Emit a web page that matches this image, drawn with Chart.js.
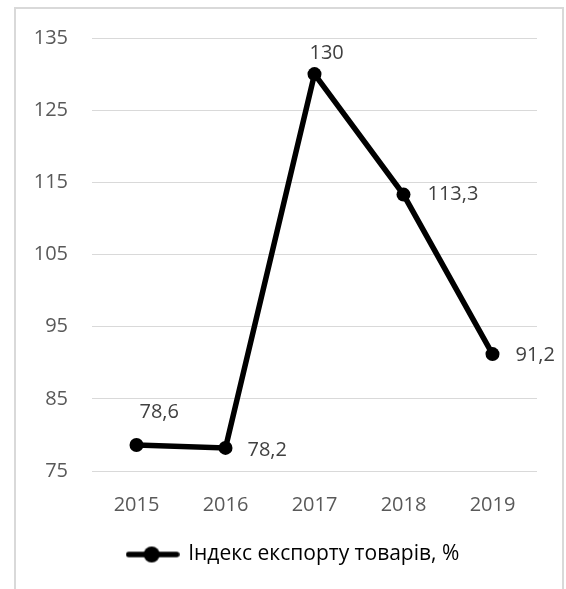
<!DOCTYPE html>
<html>
<head>
<meta charset="utf-8">
<script src="https://cdn.jsdelivr.net/npm/chart.js@4.4.1/dist/chart.umd.min.js"></script>
<style>
    body { margin: 0; background: #fff; }
    #frame { position: absolute; left: 14px; top: 7px; width: 550px; height: 600px; border: 2px solid #d9d9d9; box-sizing: border-box; }
    #wrap { position: absolute; left: 0; top: 0; width: 566px; height: 589px; }
</style>
</head>
<body>
<div id="frame"></div>
<div id="wrap"><canvas id="eksport"></canvas></div>
<script>
var roky = ["2015", "2016", "2017", "2018", "2019"];
var indeks = [78.6, 78.2, 130, 113.3, 91.2];
var yTicks = [75, 85, 95, 105, 115, 125, 135];
var nazva = "Індекс експорту товарів, %";
// where each value label sits relative to its point
var pidpysyDx = [3, 22, -5, 24, 23];
var pidpysyDy = [-33, 2, -21, 0, 1];

var shryft = "'Open Sans', 'Noto Sans', sans-serif";

// marker for the legend: line with a dot in the middle
function markerLegendy() {
    var c = document.createElement('canvas');
    c.width = 54;
    c.height = 18;
    var g = c.getContext('2d');
    g.strokeStyle = '#000';
    g.lineWidth = 5.5;
    g.lineCap = 'round';
    g.beginPath();
    g.moveTo(3, 9);
    g.lineTo(51, 9);
    g.stroke();
    g.fillStyle = '#000';
    g.beginPath();
    g.arc(26, 9, 8, 0, Math.PI * 2);
    g.fill();
    return c;
}

var pidpysyPlugin = {
    id: 'pidpysy',
    afterLayout(chart) {
        // legend sits a bit to the right of the plot centre
        chart.legend.left += 25;
        chart.legend.right += 25;
    },
    afterDatasetsDraw(chart) {
        var ctx = chart.ctx;
        var meta = chart.getDatasetMeta(0);
        ctx.save();
        ctx.font = '20px ' + shryft;
        ctx.fillStyle = '#404040';
        ctx.textBaseline = 'middle';
        ctx.textAlign = 'left';
        meta.data.forEach(function (p, i) {
            var t = String(indeks[i]).replace('.', ',');
            ctx.fillText(t, p.x + pidpysyDx[i], p.y + pidpysyDy[i]);
        });
        ctx.restore();
    }
};

var ctx = document.querySelector('#eksport').getContext('2d');
var myChart = new Chart(ctx, {
    type: 'line',
    data: {
        labels: roky,
        datasets: [{
            label: nazva,
            data: indeks,
            borderColor: '#000',
            backgroundColor: '#000',
            borderWidth: 5.5,
            pointRadius: 7,
            pointBackgroundColor: '#000',
            pointBorderWidth: 0,
            tension: 0,
            pointStyle: 'circle'
        }]
    },
    options: {
        responsive: true,
        maintainAspectRatio: false,
        animation: false,
        layout: {
            padding: { left: 0, right: 29, top: 38, bottom: 14 }
        },
        scales: {
            x: {
                offset: true,
                grid: { display: false, drawTicks: false },
                border: { display: false },
                ticks: { color: '#595959', font: { size: 20, family: shryft }, padding: 22 },
                afterFit: function (s) { s.height = 63; }
            },
            y: {
                min: 75,
                max: 135,
                grid: { color: '#d9d9d9', lineWidth: 1, drawTicks: false },
                border: { display: false },
                afterBuildTicks: function (s) { s.ticks = yTicks.map(function (v) { return { value: v }; }); },
                ticks: { color: '#595959', font: { size: 20, family: shryft }, padding: 24 },
                afterFit: function (s) { s.width = 92; }
            }
        },
        plugins: {
            tooltip: { enabled: false },
            legend: {
                position: 'bottom',
                labels: {
                    usePointStyle: true,
                    pointStyleWidth: 50,
                    color: '#111',
                    font: { size: 21, family: shryft },
                    padding: 10,
                    generateLabels: function (chart) {
                        return [{
                            text: nazva,
                            pointStyle: markerLegendy(),
                            fillStyle: '#000',
                            strokeStyle: '#000',
                            lineWidth: 0,
                            datasetIndex: 0
                        }];
                    }
                }
            }
        }
    },
    plugins: [pidpysyPlugin]
});
</script>
</body>
</html>
